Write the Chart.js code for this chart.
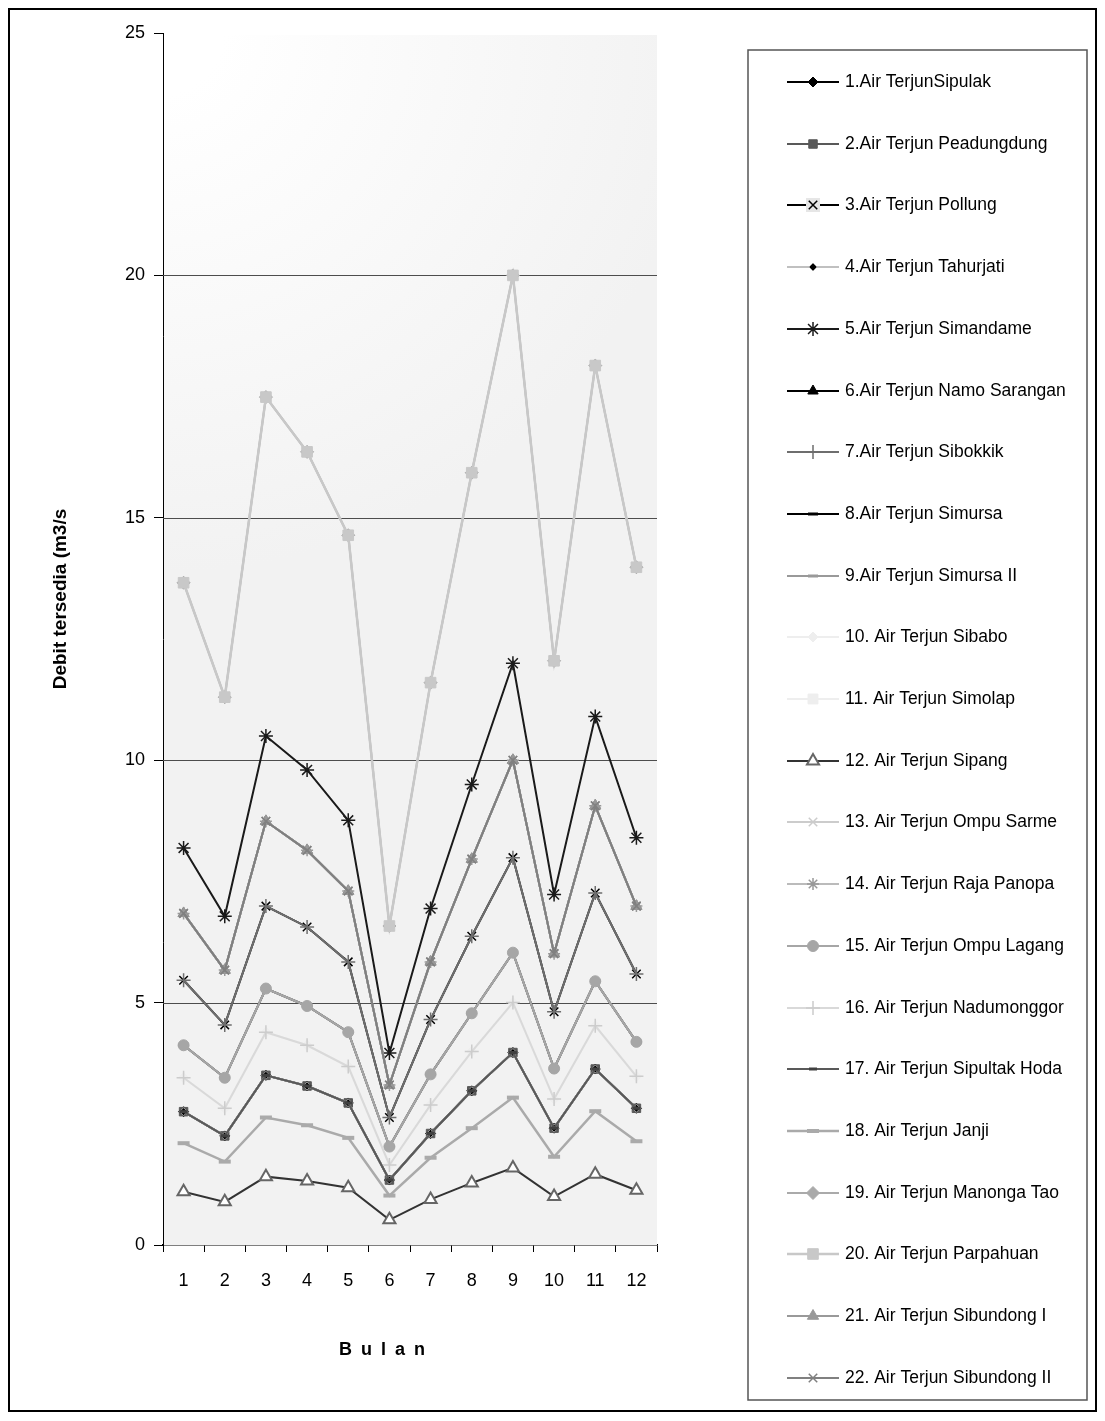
<!DOCTYPE html>
<html>
<head>
<meta charset="utf-8">
<title>Debit tersedia</title>
<script src="https://cdn.jsdelivr.net/npm/chart.js@4.4.0/dist/chart.umd.min.js"></script>
<style>
    html, body { margin: 0; padding: 0; background: #fff; }
    #debitChart { display: block; }
</style>
</head>
<body>
<canvas id="debitChart" width="1105" height="1421"></canvas>
<script>
// Bulan (sumbu x)
const months = ['1', '2', '3', '4', '5', '6', '7', '8', '9', '10', '11', '12'];
const yTicks = [0, 5, 10, 15, 20, 25];

// Debit tersedia (m3/s) per air terjun
const sipulak       = [2.75, 2.25, 3.50, 3.28, 2.93, 1.34, 2.30, 3.18, 3.97, 2.41, 3.63, 2.82];
const peadungdung   = [2.75, 2.25, 3.50, 3.28, 2.93, 1.34, 2.30, 3.18, 3.97, 2.41, 3.63, 2.82];
const pollung       = [5.46, 4.54, 6.99, 6.56, 5.84, 2.63, 4.65, 6.37, 7.99, 4.81, 7.26, 5.59];
const tahurjati     = [2.75, 2.25, 3.50, 3.28, 2.93, 1.34, 2.30, 3.18, 3.97, 2.41, 3.63, 2.82];
const simandame     = [8.19, 6.78, 10.50, 9.80, 8.76, 3.96, 6.94, 9.50, 12.00, 7.23, 10.90, 8.40];
const namoSarangan  = [6.84, 5.67, 8.74, 8.14, 7.30, 3.30, 5.84, 7.96, 10.00, 6.01, 9.06, 6.99];
const sibokkik      = [5.46, 4.54, 6.99, 6.56, 5.84, 2.63, 4.65, 6.37, 7.99, 4.81, 7.26, 5.59];
const simursa       = [4.12, 3.45, 5.29, 4.93, 4.39, 2.03, 3.52, 4.78, 6.03, 3.64, 5.44, 4.19];
const simursa2      = [4.12, 3.45, 5.29, 4.93, 4.39, 2.03, 3.52, 4.78, 6.03, 3.64, 5.44, 4.19];
const sibabo        = [3.45, 2.82, 4.39, 4.12, 3.68, 1.65, 2.89, 3.99, 5.00, 3.01, 4.52, 3.48];
const simolap       = [13.66, 11.30, 17.49, 16.36, 14.64, 6.58, 11.60, 15.93, 20.00, 12.05, 18.14, 13.98];
const sipang        = [1.10, 0.89, 1.41, 1.32, 1.18, 0.52, 0.94, 1.28, 1.59, 1.00, 1.46, 1.13];
const ompuSarme     = [6.84, 5.67, 8.74, 8.14, 7.30, 3.30, 5.84, 7.96, 10.00, 6.01, 9.06, 6.99];
const rajaPanopa    = [6.84, 5.67, 8.74, 8.14, 7.30, 3.30, 5.84, 7.96, 10.00, 6.01, 9.06, 6.99];
const ompuLagang    = [4.12, 3.45, 5.29, 4.93, 4.39, 2.03, 3.52, 4.78, 6.03, 3.64, 5.44, 4.19];
const nadumonggor   = [3.45, 2.82, 4.39, 4.12, 3.68, 1.65, 2.89, 3.99, 5.00, 3.01, 4.52, 3.48];
const sipultakHoda  = [2.75, 2.25, 3.50, 3.28, 2.93, 1.34, 2.30, 3.18, 3.97, 2.41, 3.63, 2.82];
const janji         = [2.10, 1.72, 2.63, 2.47, 2.21, 1.02, 1.80, 2.41, 3.04, 1.82, 2.76, 2.14];
const manongaTao    = [13.66, 11.30, 17.49, 16.36, 14.64, 6.58, 11.60, 15.93, 20.00, 12.05, 18.14, 13.98];
const parpahuan     = [13.66, 11.30, 17.49, 16.36, 14.64, 6.58, 11.60, 15.93, 20.00, 12.05, 18.14, 13.98];
const sibundong1    = [6.84, 5.67, 8.74, 8.14, 7.30, 3.30, 5.84, 7.96, 10.00, 6.01, 9.06, 6.99];
const sibundong2    = [6.84, 5.67, 8.74, 8.14, 7.30, 3.30, 5.84, 7.96, 10.00, 6.01, 9.06, 6.99];

const FONT = '"Liberation Sans", Arial, Helvetica, sans-serif';

// buat satu seri garis
function series(label, data, line, lineW, style, radius, fill, stroke, pointW) {
    return {
        label: label,
        data: data,
        borderColor: line,
        borderWidth: lineW,
        pointStyle: style,
        pointRadius: radius,
        pointHoverRadius: radius,
        pointBackgroundColor: fill,
        pointBorderColor: stroke,
        pointBorderWidth: pointW,
        fill: false,
        tension: 0
    };
}

// latar area plot (gradasi putih ke abu-abu) + garis grid
const plotBackground = {
    id: 'plotBackground',
    beforeDatasetsDraw(chart) {
        const ctx = chart.ctx;
        const a = chart.chartArea;
        ctx.save();
        const g = ctx.createRadialGradient(a.left, a.top, 60, a.left, a.top, 540);
        g.addColorStop(0, '#ffffff');
        g.addColorStop(1, '#f2f2f2');
        ctx.fillStyle = g;
        ctx.fillRect(a.left + 1, a.top + 2, a.right - a.left - 1, a.bottom - a.top - 2);
        ctx.strokeStyle = '#4d4d4d';
        ctx.lineWidth = 1;
        const yScale = chart.scales.y;
        yTicks.forEach(v => {
            if (v === 0 || v === 25) return;
            const y = Math.round(yScale.getPixelForValue(v)) + 0.5;
            ctx.beginPath();
            ctx.moveTo(a.left, y);
            ctx.lineTo(a.right, y);
            ctx.stroke();
        });
        ctx.restore();
    }
};

// judul sumbu (posisi seperti grafik asli)
const axisTitles = {
    id: 'axisTitles',
    afterDraw(chart) {
        const ctx = chart.ctx;
        ctx.save();
        ctx.fillStyle = '#000';
        ctx.font = 'bold 19px ' + FONT;
        ctx.textAlign = 'center';
        ctx.textBaseline = 'middle';
        ctx.translate(61, 599);
        ctx.rotate(-Math.PI / 2);
        ctx.fillText('Debit tersedia (m3/s', 0, 0);
        ctx.restore();

        // "B u l a n" dengan spasi huruf
        ctx.save();
        ctx.fillStyle = '#000';
        ctx.font = 'bold 18px ' + FONT;
        ctx.textAlign = 'left';
        ctx.textBaseline = 'middle';
        const word = 'Bulan';
        const gap = 9;
        let total = 0;
        for (const ch of word) total += ctx.measureText(ch).width;
        total += gap * (word.length - 1);
        let x = 382 - total / 2;
        for (const ch of word) {
            ctx.fillText(ch, x, 1350);
            x += ctx.measureText(ch).width + gap;
        }
        ctx.restore();
    }
};

// legenda di dalam kotak, garis + penanda
const boxLegend = {
    id: 'boxLegend',
    afterDraw(chart) {
        const ctx = chart.ctx;
        ctx.save();
        ctx.strokeStyle = '#000';
        ctx.lineWidth = 2;
        ctx.strokeRect(9, 9, 1087, 1402);
        ctx.strokeStyle = '#555';
        ctx.lineWidth = 1.5;
        ctx.strokeRect(748, 50, 339, 1350);

        chart.data.datasets.forEach((ds, i) => {
            const y = Math.round(82 + i * 61.7);
            ctx.strokeStyle = ds.borderColor;
            ctx.lineWidth = ds.borderWidth;
            ctx.beginPath();
            ctx.moveTo(787, y);
            ctx.lineTo(839, y);
            ctx.stroke();

            if (i === 2) {
                // penanda Pollung berlatar abu muda
                ctx.fillStyle = '#e6e6e6';
                ctx.fillRect(806, y - 7, 14, 14);
            }
            ctx.fillStyle = ds.pointBackgroundColor;
            ctx.strokeStyle = ds.pointBorderColor;
            ctx.lineWidth = ds.pointBorderWidth;
            Chart.helpers.drawPoint(ctx, {
                pointStyle: ds.pointStyle,
                radius: ds.pointRadius,
                rotation: 0,
                borderWidth: ds.pointBorderWidth
            }, 813, y);

            ctx.fillStyle = '#000';
            ctx.font = '17.5px ' + FONT;
            ctx.textAlign = 'left';
            ctx.textBaseline = 'middle';
            ctx.fillText(ds.label, 845, y);
        });
        ctx.restore();
    }
};

document.addEventListener('DOMContentLoaded', function() {
    const ctx = document.getElementById('debitChart').getContext('2d');
    Chart.defaults.font.family = FONT;
    Chart.defaults.color = '#000';

    const datasets = [
        series('1.Air TerjunSipulak', sipulak, '#000000', 2, 'rectRot', 5, '#000000', '#000000', 1),
        series('2.Air Terjun Peadungdung', peadungdung, '#595959', 2, 'rect', 6, '#595959', '#595959', 1),
        series('3.Air Terjun Pollung', pollung, '#000000', 2, 'crossRot', 6, '#000000', '#000000', 1.5),
        series('4.Air Terjun Tahurjati', tahurjati, '#c0c0c0', 2, 'rectRot', 4, '#000000', '#9a9a9a', 1),
        series('5.Air Terjun Simandame', simandame, '#1a1a1a', 2, 'star', 7, '#1a1a1a', '#1a1a1a', 1.5),
        series('6.Air Terjun Namo Sarangan', namoSarangan, '#000000', 2, 'triangle', 6, '#000000', '#000000', 1),
        series('7.Air Terjun Sibokkik', sibokkik, '#6e6e6e', 2, 'cross', 7, '#6e6e6e', '#6e6e6e', 1.5),
        series('8.Air Terjun Simursa', simursa, '#000000', 2, 'line', 5, '#000000', '#000000', 3),
        series('9.Air Terjun Simursa II', simursa2, '#999999', 2, 'line', 5, '#999999', '#999999', 3),
        series('10. Air Terjun Sibabo', sibabo, '#eeeeee', 2, 'rectRot', 5, '#eeeeee', '#eeeeee', 1),
        series('11. Air Terjun Simolap', simolap, '#eeeeee', 2, 'rect', 7, '#eeeeee', '#eeeeee', 1),
        series('12. Air Terjun Sipang', sipang, '#333333', 2, 'triangle', 7, '#ffffff', '#666666', 2),
        series('13. Air Terjun Ompu Sarme', ompuSarme, '#cccccc', 2, 'crossRot', 6, '#cccccc', '#cccccc', 1.5),
        series('14. Air Terjun Raja Panopa', rajaPanopa, '#bbbbbb', 2, 'star', 6, '#999999', '#999999', 1.5),
        series('15. Air Terjun Ompu Lagang', ompuLagang, '#a6a6a6', 2, 'circle', 5.5, '#a6a6a6', '#a6a6a6', 1),
        series('16. Air Terjun Nadumonggor', nadumonggor, '#d9d9d9', 2, 'cross', 7, '#cccccc', '#cccccc', 1.5),
        series('17. Air Terjun Sipultak Hoda', sipultakHoda, '#595959', 2, 'line', 4, '#404040', '#404040', 3),
        series('18. Air Terjun Janji', janji, '#aaaaaa', 2.5, 'line', 6, '#aaaaaa', '#aaaaaa', 4),
        series('19. Air Terjun Manonga Tao', manongaTao, '#aaaaaa', 2, 'rectRot', 6.5, '#aaaaaa', '#aaaaaa', 1),
        series('20. Air Terjun Parpahuan', parpahuan, '#c8c8c8', 2.5, 'rect', 7.5, '#c8c8c8', '#c8c8c8', 1),
        series('21. Air Terjun Sibundong I', sibundong1, '#999999', 2, 'triangle', 6.5, '#999999', '#999999', 1),
        series('22. Air Terjun Sibundong II', sibundong2, '#808080', 2, 'crossRot', 6, '#808080', '#808080', 1.5)
    ];
    // seri yang lebih akhir digambar di atas
    datasets.forEach((ds, i) => { ds.order = datasets.length - i; });

    const chartConfig = {
        type: 'line',
        data: {
            labels: months,
            datasets: datasets
        },
        options: {
            responsive: false,
            animation: false,
            layout: {
                padding: { left: 50, top: 33, right: 448, bottom: 0 }
            },
            plugins: {
                legend: { display: false },
                tooltip: { enabled: false }
            },
            scales: {
                x: {
                    offset: true,
                    grid: {
                        offset: true,
                        drawOnChartArea: false,
                        tickLength: 7,
                        color: '#000',
                        tickColor: '#000'
                    },
                    border: { color: '#000', width: 1.5 },
                    ticks: {
                        color: '#000',
                        font: { size: 18 },
                        padding: 18,
                        maxRotation: 0
                    },
                    afterFit: function(scale) { scale.height = 176; }
                },
                y: {
                    min: 0,
                    max: 25,
                    afterBuildTicks: function(scale) {
                        scale.ticks = yTicks.map(v => ({ value: v }));
                    },
                    grid: {
                        drawOnChartArea: false,
                        tickLength: 9,
                        tickColor: '#000'
                    },
                    border: { color: '#000', width: 1 },
                    ticks: {
                        color: '#000',
                        font: { size: 18 },
                        padding: 9
                    },
                    afterFit: function(scale) { scale.width = 113; }
                }
            }
        },
        plugins: [plotBackground, axisTitles, boxLegend]
    };

    new Chart(ctx, chartConfig);
});
</script>
</body>
</html>
